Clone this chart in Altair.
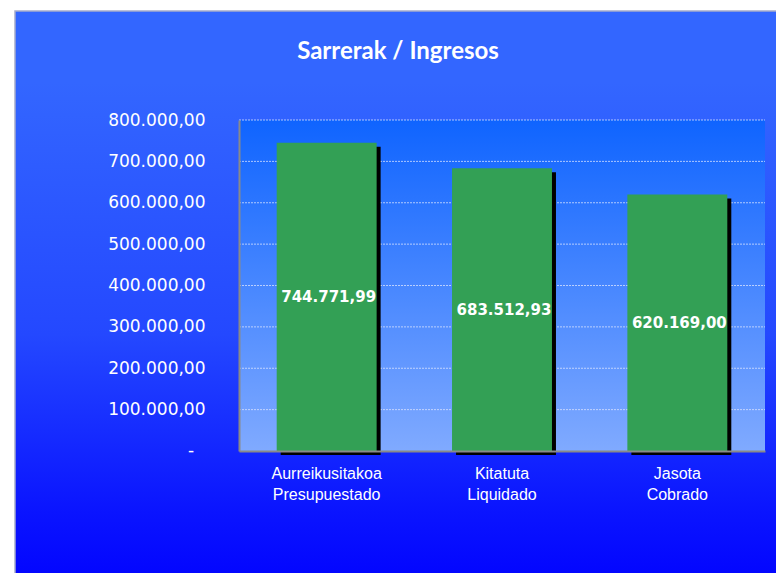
import altair as alt
import pandas as pd

TITLE = "Sarrerak / Ingresos"
categories = ["Aurreikusitakoa\nPresupuestado", "Kitatuta\nLiquidado", "Jasota\nCobrado"]
values = [744771.99, 683512.93, 620169.00]
grid_ticks = [100000, 200000, 300000, 400000, 500000, 600000, 700000, 800000]
y_ticks = [0, 100000, 200000, 300000, 400000, 500000, 600000, 700000, 800000]
zero_label = ["-"]

W, H = 526, 331
BAR_GREEN = "#33A055"

df = pd.DataFrame({"cat": categories, "value": values})
df["mid"] = df["value"] / 2
grid_df = pd.DataFrame({"value": grid_ticks})
zero_df = pd.DataFrame({"value": [0], "t": zero_label})
one = pd.DataFrame({"k": [0]})

yscale = alt.Scale(domain=[0, 800000], nice=False, zero=True)
xscale = alt.Scale(domain=categories, paddingInner=0.43, paddingOuter=0.215)

xaxis = alt.Axis(title=None, labelAngle=0, ticks=False, domainColor="#8A8A8A",
                 domainWidth=2, labelColor="white", labelFont="Liberation Sans",
                 labelFontSize=16, labelPadding=14, labelLineHeight=21,
                 labelExpr="split(datum.label, '\\n')", zindex=1, grid=False)
yaxis = alt.Axis(title=None, values=y_ticks, format=",.2f", ticks=False, grid=False,
                 domainColor="#8A8A8A", domainWidth=2, labelColor="white",
                 labelFont="DejaVu Sans", labelFontSize=17, labelPadding=34,
                 labelExpr="datum.value == 0 ? '' : datum.label",
                 zindex=1)

outer_grad = alt.Gradient(
    gradient="linear", x1=0, y1=0, x2=0, y2=1,
    stops=[alt.GradientStop(color="#3366FF", offset=0),
           alt.GradientStop(color="#3366FF", offset=0.12),
           alt.GradientStop(color="#2448FF", offset=0.55),
           alt.GradientStop(color="#0A14FF", offset=0.85),
           alt.GradientStop(color="#0000FF", offset=1)])
plot_grad = alt.Gradient(
    gradient="linear", x1=0, y1=0, x2=0, y2=1,
    stops=[alt.GradientStop(color="#0F64FF", offset=0),
           alt.GradientStop(color="#80AAFF", offset=1)])

bg = alt.Chart(one).mark_rect(fill=outer_grad, stroke="#A6ACCA", strokeWidth=1.5).encode(
    x=alt.value(-224), x2=alt.value(560), y=alt.value(-109), y2=alt.value(480))

plotbg = alt.Chart(one).mark_rect(fill=plot_grad).encode(
    x=alt.value(0), x2=alt.value(W), y=alt.value(0), y2=alt.value(H))

title = alt.Chart(pd.DataFrame({"t": [TITLE]})).mark_text(
    font="Lato", fontWeight="bold", fontSize=24, color="white",
    align="center", baseline="middle").encode(
    x=alt.value(159), y=alt.value(-68), text="t:N")

grid = alt.Chart(grid_df).mark_rule(color="#DDE6FF", strokeWidth=1, opacity=0.75,
                                    strokeDash=[2, 1]).encode(
    y=alt.Y("value:Q", scale=yscale, axis=yaxis), x=alt.value(0), x2=alt.value(W))

zero_text = alt.Chart(zero_df).mark_text(font="DejaVu Sans", fontSize=17, color="white",
                                         align="center", baseline="middle").encode(
    y=alt.Y("value:Q", scale=yscale, axis=yaxis), x=alt.value(-48), text="t:N")

shadow = alt.Chart(df).mark_bar(color="black", xOffset=4, x2Offset=4, yOffset=4, y2Offset=4).encode(
    x=alt.X("cat:N", scale=xscale, axis=xaxis, sort=categories),
    y=alt.Y("value:Q", scale=yscale, axis=yaxis))

bars = alt.Chart(df).mark_bar(color=BAR_GREEN).encode(
    x=alt.X("cat:N", scale=xscale, sort=categories, axis=xaxis),
    y=alt.Y("value:Q", scale=yscale, axis=yaxis))

labels = alt.Chart(df).mark_text(font="DejaVu Sans", fontWeight="bold", fontSize=15,
                                 color="white", align="center", baseline="middle", dx=2).encode(
    x=alt.X("cat:N", scale=xscale, sort=categories, axis=xaxis),
    y=alt.Y("mid:Q", scale=yscale, axis=yaxis),
    text=alt.Text("value:Q", format=",.2f"))

chart = alt.layer(bg, plotbg, title, grid, zero_text, shadow, bars, labels).properties(
    width=W, height=H,
    autosize=alt.AutoSizeParams(type="none"),
    padding={"left": 231, "top": 112, "right": 11, "bottom": 122},
    background="white",
).configure_view(stroke=None).configure_axis(grid=False).configure(
    locale={"number": {"decimal": ",", "thousands": ".", "grouping": [3], "currency": ["", " €"]}}
)

chart.save("out.html", embed_options={"renderer": "svg", "actions": False})
